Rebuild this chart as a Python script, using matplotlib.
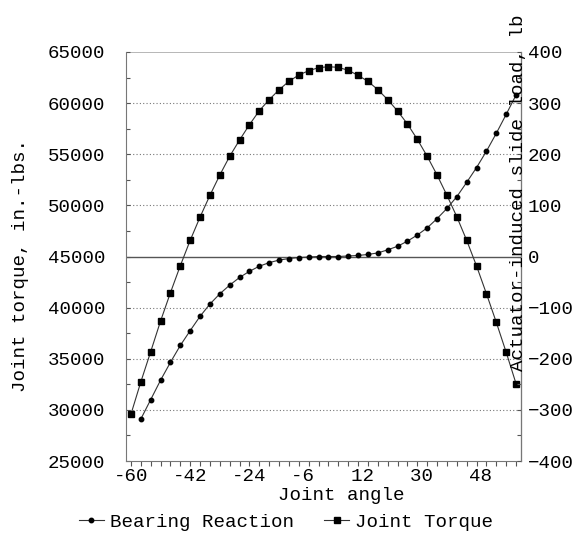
import numpy as np
import matplotlib
matplotlib.use("Agg")
import matplotlib.pyplot as plt
from matplotlib.ticker import MultipleLocator, FixedLocator

plt.rcParams['font.family'] = ['Liberation Mono', 'DejaVu Sans']
FS = 13.8

# joint angle categories (deg)
torque_angle = list(range(-60, 58, 3))
joint_torque = [29570, 32730, 35690, 38690, 41460, 44100, 46580, 48860, 50985, 52970,
                54800, 56390, 57890, 59260, 60335, 61310, 62130, 62750, 63170, 63465,
                63560, 63500, 63210, 62720, 62130, 61320, 60340, 59230, 57960, 56460,
                54800, 52970, 50985, 48890, 46580, 44070, 41360, 38560, 35630, 32560]

bearing_angle = list(range(-57, 58, 3))
bearing_reaction = [-318, -280, -242, -207, -174, -145, -117, -93, -73, -56,
                    -41, -29, -19, -12, -7, -4, -2, -1, 0, 0,
                    0, 1, 2, 4, 7, 13, 20, 30, 42, 56,
                    74, 94, 117, 145, 174, 206, 241, 278, 316]

xlabels_at = [-60, -42, -24, -6, 12, 30, 48]

fig = plt.figure(figsize=(5.79, 5.36), dpi=100)
ax = fig.add_axes([126/579, 1-461/536, (521-126)/579, (461-52)/536])
ax2 = ax.twinx()

ax.set_xlim(-61.5, 58.5)
ax.set_ylim(25000, 65000)
ax2.set_ylim(-400, 400)

# grid
for v in range(30000, 65001, 5000):
    if v == 45000:
        ax.axhline(v, color='#555555', lw=1.0, zorder=1)
    elif v == 65000:
        ax.axhline(v, color='#aaaaaa', lw=1.2, zorder=1)
    else:
        ax.axhline(v, color='#777777', lw=0.8, ls=(0, (1, 2)), zorder=1)

lt, = ax.plot(torque_angle, joint_torque, color='#333333', lw=0.8,
              marker='s', ms=4.5, mfc='black', mec='black', zorder=3)
lb, = ax2.plot(bearing_angle, bearing_reaction, color='#333333', lw=0.8,
               marker='o', ms=3.2, mfc='black', mec='black', zorder=3)

# spines
for a in (ax, ax2):
    a.spines['top'].set_visible(False)
ax.spines['left'].set_color('#777777')
ax.spines['bottom'].set_color('#777777')
ax2.spines['right'].set_color('#777777')
ax2.spines['left'].set_visible(False)
ax2.spines['bottom'].set_visible(False)

# x ticks
ax.xaxis.set_major_locator(FixedLocator(xlabels_at))
ax.xaxis.set_minor_locator(FixedLocator(torque_angle))
ax.set_xticklabels([f"{v:<3d}" for v in xlabels_at])
ax.tick_params(axis='x', which='both', direction='out', length=3.6, width=0.8,
               color='#555555', pad=1.5, labelsize=FS)

# y ticks
ax.yaxis.set_major_locator(MultipleLocator(5000))
ax.yaxis.set_minor_locator(MultipleLocator(2500))
ax.tick_params(axis='y', which='both', direction='in', length=3, width=0.8,
               color='#555555', pad=15, labelsize=FS)
ax2.yaxis.set_major_locator(MultipleLocator(100))
ax2.yaxis.set_minor_locator(MultipleLocator(50))
ax2.tick_params(axis='y', which='both', direction='in', length=3, width=0.8,
                color='#555555', pad=5, labelsize=FS)

fig.text(21/579, 1-265/536, 'Joint torque, in.-lbs.', rotation=90,
         ha='center', va='center', fontsize=FS)
fig.text(518/579, 1-193/536, 'Actuator-induced slide load, lb', rotation=90,
         ha='center', va='center', fontsize=FS)
fig.text(341/579, 1-496/536, 'Joint angle', ha='center', va='center', fontsize=FS)

fig.legend([lb, lt], ['Bearing Reaction', 'Joint Torque'], loc='center',
           bbox_to_anchor=(286/579, 1-522/536), ncol=2, frameon=False,
           fontsize=FS, handlelength=1.3, handletextpad=0.3, columnspacing=1.6,
           markerscale=1.0)

fig.savefig('out.png', dpi=100)
